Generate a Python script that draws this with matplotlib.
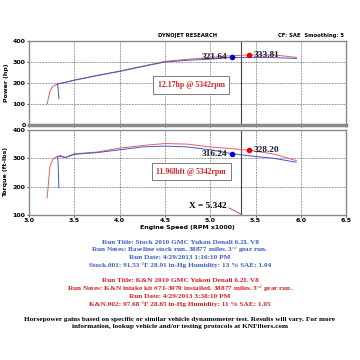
import numpy as np
import matplotlib
matplotlib.use("Agg")
import matplotlib.pyplot as plt

# --- data (rpm x1000) ---
rpm_stock = [3.33, 3.32, 3.31, 3.35, 3.4, 3.5, 3.75, 4.0, 4.25, 4.5, 4.75, 5.0, 5.237, 5.45, 5.7, 5.95]
hp_stock = [125, 180, 196, 199, 203, 213, 235, 255, 278, 300, 308, 314, 321.64, 322, 321, 317]
tq_stock = [195, 290, 305, 306, 303, 314, 320, 330, 340, 343, 340, 330, 316.24, 308, 300, 286]

rpm_kn = [3.2, 3.23, 3.26, 3.3, 3.35, 3.4, 3.5, 3.75, 4.0, 4.25, 4.5, 4.75, 5.0, 5.2, 5.43, 5.7, 5.95]
hp_kn = [100, 160, 183, 192, 198, 203, 214, 236, 257, 280, 303, 313, 322, 329, 333.81, 334, 322]
tq_kn = [160, 270, 295, 305, 310, 302, 316, 322, 336, 345, 352, 350, 340, 335, 328.20, 315, 292]

peak_stock = (5.237, 321.64, 316.24)
peak_kn = (5.43, 333.81, 328.20)
x_mark = 5.342

blue_txt = ["Run Title: Stock 2010 GMC Yukon Denali 6.2L V8",
            "Run Notes: Baseline stock run. 38877 miles. 3$^{rd}$ gear run.",
            "Run Date: 4/29/2013 1:16:10 PM",
            "Stock.001: 91.53 \u00b0F 28.91 in-Hg Humidity: 13 % SAE: 1.04"]
red_txt = ["Run Title: K&N 2010 GMC Yukon Denali 6.2L V8",
           "Run Notes: K&N intake kit #71-3070 installed. 38877 miles. 3$^{rd}$ gear run.",
           "Run Date: 4/29/2013 3:38:10 PM",
           "K&N.002: 97.68 \u00b0F 28.85 in-Hg Humidity: 11 % SAE: 1.05"]
foot_txt = ["Horsepower gains based on specific or similar vehicle dynamometer test. Results will vary. For more",
            "information, lookup vehicle and/or testing protocols at KNFilters.com"]

plt.rcParams['mathtext.fontset'] = 'stix'
blue_line = '#4455cc'
red_line = '#e06060'
blue_c = '#3a5cc4'
red_c = '#d42020'
serif = 'Liberation Serif'

fig = plt.figure(figsize=(3.6, 3.6), dpi=100)
ax1 = fig.add_axes([0.0806, 0.653, 0.881, 0.233])
ax2 = fig.add_axes([0.0806, 0.403, 0.881, 0.236])

for ax in (ax1, ax2):
    ax.set_xlim(3.0, 6.5)
    ax.set_xticks(np.arange(3.0, 6.51, 0.5))
    ax.grid(True, color='#333333', linestyle=(0, (1, 1.2)), linewidth=0.5)
    ax.axvline(x_mark, color='#444444', linewidth=0.8)
    for s in ax.spines.values():
        s.set_color('#8a8a8a')
        s.set_linewidth(1.0)
    ax.tick_params(labelsize=4.5, length=1.5, width=0.5, pad=1)
    for lab in ax.get_yticklabels() + ax.get_xticklabels():
        lab.set_fontweight('bold')

# power panel
ax1.plot(rpm_kn, hp_kn, color=red_line, linewidth=0.7)
ax1.plot(rpm_stock, hp_stock, color=blue_line, linewidth=0.7)
ax1.set_ylim(0, 400)
ax1.set_yticks([0, 100, 200, 300, 400])
ax1.set_yticklabels(['0', '100', '200', '300', '400'], fontweight='bold')
ax1.tick_params(axis='x', labelbottom=False)
ax1.spines['bottom'].set_linewidth(2.5)
ax1.set_ylabel('Power (hp)', fontsize=4.5, fontweight='bold', labelpad=3)
ax1.plot(peak_stock[0], peak_stock[1], 'o', color='#0000dd', markersize=3)
ax1.plot(peak_kn[0], peak_kn[1], 'o', color='#ee0000', markersize=3)
ax1.text(peak_stock[0] - 0.05, peak_stock[1], '%.2f' % peak_stock[1], fontsize=6.7,
         fontweight='bold', family=serif, ha='right', va='center', color='#1a1a33')
ax1.text(peak_kn[0] + 0.05, peak_kn[1], '%.2f' % peak_kn[1], fontsize=6.7,
         fontweight='bold', family=serif, ha='left', va='center', color='#1a1a33')
ax1.text(4.79, 190, '12.17hp @ 5342rpm', fontsize=5.6, fontweight='bold', family=serif,
         color=red_c, ha='center', va='center',
         bbox=dict(boxstyle='square,pad=0.6', fc='white', ec='#666666', lw=0.6))

# torque panel
ax2.plot(rpm_kn, tq_kn, color=red_line, linewidth=0.7)
ax2.plot(rpm_stock, tq_stock, color=blue_line, linewidth=0.7)
ax2.set_ylim(100, 400)
ax2.set_yticks([100, 200, 300, 400])
ax2.set_xticklabels(['3.0', '3.5', '4.0', '4.5', '5.0', '5.5', '6.0', '6.5'], fontweight='bold')
ax2.set_ylabel('Torque (ft-lbs)', fontsize=4.5, fontweight='bold', labelpad=3)
ax2.set_xlabel('Engine Speed (RPM x1000)', fontsize=4.5, fontweight='bold', labelpad=1)
ax2.plot(peak_stock[0], peak_stock[2], 'o', color='#0000dd', markersize=3)
ax2.plot(peak_kn[0], peak_kn[2], 'o', color='#ee0000', markersize=3)
ax2.text(peak_stock[0] - 0.05, peak_stock[2], '%.2f' % peak_stock[2], fontsize=6.7,
         fontweight='bold', family=serif, ha='right', va='center', color='#1a1a33')
ax2.text(peak_kn[0] + 0.05, peak_kn[2], '%.2f' % peak_kn[2], fontsize=6.7,
         fontweight='bold', family=serif, ha='left', va='center', color='#1a1a33')
ax2.text(4.79, 253, '11.96lbft @ 5342rpm', fontsize=5.6, fontweight='bold', family=serif,
         color=red_c, ha='center', va='center',
         bbox=dict(boxstyle='square,pad=0.6', fc='white', ec='#666666', lw=0.6))
ax2.annotate('X = %.3f' % x_mark, xy=(x_mark, 102), xytext=(4.76, 130),
             fontsize=6.7, fontweight='bold', family=serif, ha='left', va='center',
             arrowprops=dict(arrowstyle='-', color='#cc3333', lw=0.6, shrinkA=0, shrinkB=0,
                             relpos=(1.0, 0.5)))

# header
fig.text(0.52, 0.9, 'DYNOJET RESEARCH', fontsize=3.8, fontweight='bold', ha='center', va='center')
fig.text(0.955, 0.9, 'CF: SAE  Smoothing: 5', fontsize=3.8, fontweight='bold', ha='right', va='center')

# run info
y = 1 - 242 / 360
for t in blue_txt:
    fig.text(0.5, y, t, fontsize=5.2, fontweight='bold', family=serif, color=blue_c, ha='center', va='center')
    y -= 7.6 / 360
y = 1 - 281 / 360
for t in red_txt:
    fig.text(0.5, y, t, fontsize=5.2, fontweight='bold', family=serif, color=red_c, ha='center', va='center')
    y -= 7.6 / 360
y = 1 - 319 / 360
for t in foot_txt:
    fig.text(0.5, y, t, fontsize=5.2, fontweight='bold', family=serif, color='black', ha='center', va='center')
    y -= 7.6 / 360

fig.savefig('out.png', dpi=100)
